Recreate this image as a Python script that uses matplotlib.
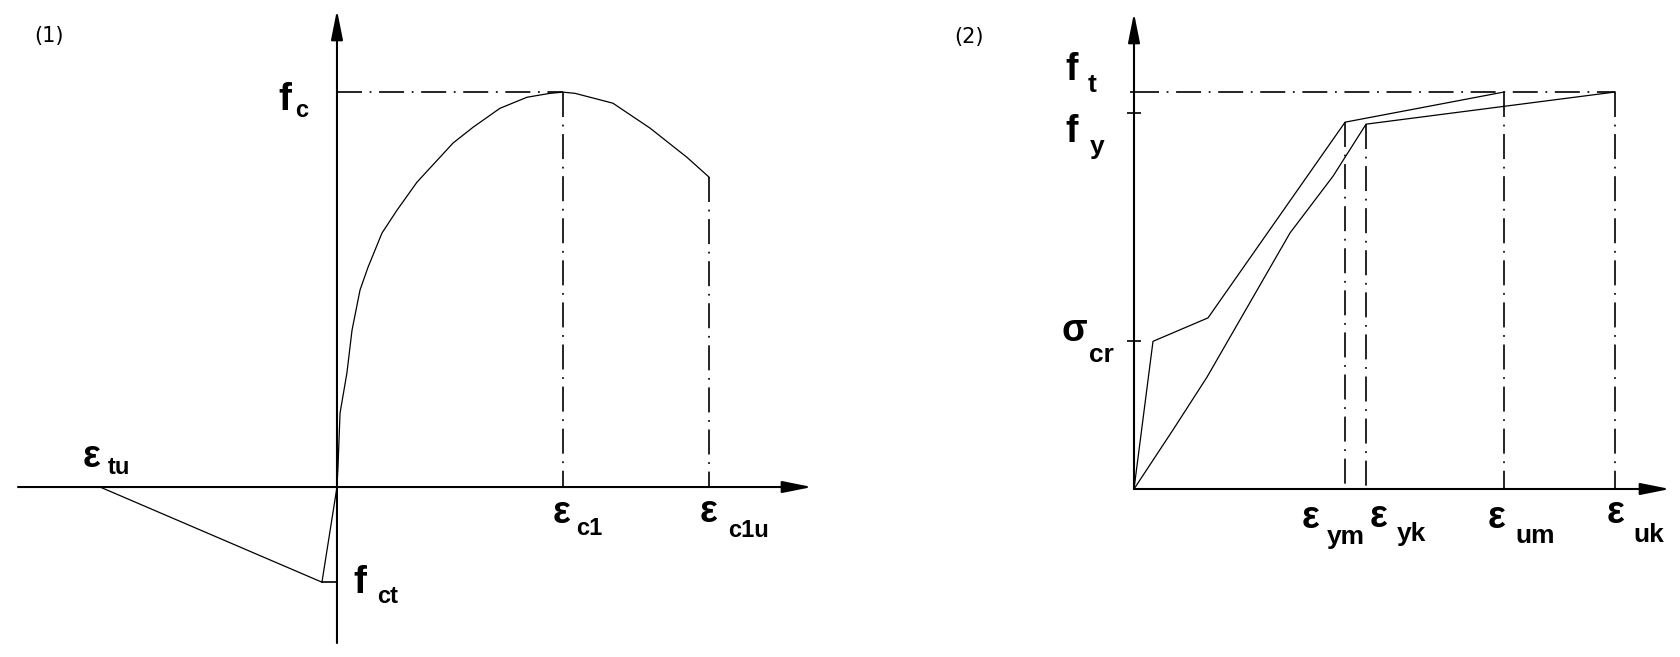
import matplotlib
matplotlib.use("Agg")
import matplotlib.pyplot as plt

# ---------------- Panel (1): concrete, strain in permille, stress / fc ----------------
conc_eps = [0, 0.009, 0.027, 0.088, 0.133, 0.204, 0.274, 0.398, 0.531, 0.708, 1.027,
            1.204, 1.442, 1.681, 1.885, 2.0, 2.106, 2.442, 2.770, 3.097, 3.292]
conc_sig = [0, 0.051, 0.187, 0.289, 0.397, 0.499, 0.556, 0.643, 0.701, 0.772, 0.871,
            0.911, 0.959, 0.987, 0.997, 1.0, 0.997, 0.972, 0.909, 0.835, 0.785]
tens_eps = [0, -0.133, -2.097]
tens_sig = [0, -0.241, 0]
fc = 1.0
fct = -0.241
eps_ct = -0.133
eps_c1 = 2.0
eps_c1u = 3.292
sig_c1u = 0.785
eps_tu = -2.097

# ---------------- Panel (2): reinforcing steel, stress / ft ----------------
mean_eps = [0, 0.395, 1.538, 4.387, 7.692]
mean_sig = [0, 0.372, 0.431, 0.924, 1.0]
char_eps = [0, 0.811, 1.518, 3.243, 4.137, 4.823, 10.0]
char_sig = [0, 0.149, 0.282, 0.645, 0.788, 0.919, 1.0]
ft = 1.0
fy = 0.947
sig_cr = 0.372
eps_ym, sig_ym = 4.387, 0.924
eps_yk, sig_yk = 4.823, 0.919
eps_um = 7.692
eps_uk = 10.0

W, H = 1681, 657
plt.rcParams["lines.scale_dashes"] = False
fig = plt.figure(figsize=(W / 100, H / 100), dpi=100)
fig.patch.set_facecolor("white")

DASHDOT = (0, (18, 5.5, 1.3, 5.5))
LABEL_FONT = "Liberation Sans"


def make_axes(px_left, px_right, px_top, px_bottom, xlim, ylim):
    ax = fig.add_axes([px_left / W, 1 - px_bottom / H,
                       (px_right - px_left) / W, (px_bottom - px_top) / H])
    ax.set_xlim(*xlim)
    ax.set_ylim(*ylim)
    for s in ax.spines.values():
        s.set_visible(False)
    ax.set_xticks([])
    ax.set_yticks([])
    ax.patch.set_alpha(0)
    return ax


def axis_arrow(ax, start, end):
    ax.annotate("", xy=end, xytext=start, annotation_clip=False,
                arrowprops=dict(arrowstyle="-|>,head_length=1.8,head_width=0.36",
                                mutation_scale=10, lw=1.5, color="black",
                                shrinkA=0, shrinkB=0, clip_on=False))


def label(ax, main, sub, xy, moff, soff, mfs, sfs):
    ax.annotate(main, xy=xy, xytext=moff, textcoords="offset pixels",
                ha="left", va="baseline", fontsize=mfs, fontweight="bold",
                family=LABEL_FONT, annotation_clip=False)
    ax.annotate(sub, xy=xy, xytext=soff, textcoords="offset pixels",
                ha="left", va="baseline", fontsize=sfs, fontweight="bold",
                family=LABEL_FONT, annotation_clip=False)


# ================= Panel (1) =================
ax1 = make_axes(18, 812, 10, 643, (-2.823, 4.204), (-0.395, 1.208))
x0, x1 = ax1.get_xlim()
y0, y1 = ax1.get_ylim()
axis_arrow(ax1, (x0, 0), (x1, 0))
axis_arrow(ax1, (0, y0), (0, y1))

ax1.plot(conc_eps, conc_sig, color="black", lw=0.9, clip_on=False)
ax1.plot(tens_eps, tens_sig, color="black", lw=0.9, clip_on=False)
ax1.plot([eps_ct, 0], [fct, fct], color="black", lw=1.2, clip_on=False)

ax1.plot([0, eps_c1], [fc, fc], color="black", lw=1.2, linestyle=DASHDOT)
ax1.plot([eps_c1, eps_c1], [fc, 0], color="black", lw=1.2, linestyle=DASHDOT)
ax1.plot([eps_c1u, eps_c1u], [sig_c1u, 0], color="black", lw=1.2, linestyle=DASHDOT)

label(ax1, "f", "c", (0, fc), (-59, -18), (-42, -25), 28, 17)
label(ax1, "f", "ct", (0, fct), (16, -11), (40, -21), 28, 17)
label(ax1, "ε", "tu", (eps_tu, 0), (-17, 20), (8, 13), 27, 17)
label(ax1, "ε", "c1", (eps_c1, 0), (-10, -36), (13, -48), 27, 17)
label(ax1, "ε", "c1u", (eps_c1u, 0), (-9, -35), (19, -50), 27, 17)

fig.text(34 / W, 1 - 26 / H, "(1)", fontsize=15, family="DejaVu Sans",
         ha="left", va="top")

# ================= Panel (2) =================
ax2 = make_axes(1134, 1670, 13, 489, (0, 11.14), (0, 1.199))
x0, x1 = ax2.get_xlim()
y0, y1 = ax2.get_ylim()
axis_arrow(ax2, (x0, 0), (x1, 0))
axis_arrow(ax2, (0, y0), (0, y1))

ax2.plot(mean_eps, mean_sig, color="black", lw=0.9, clip_on=False)
ax2.plot(char_eps, char_sig, color="black", lw=0.9, clip_on=False)

ax2.plot([0, eps_uk], [ft, ft], color="black", lw=1.2, linestyle=DASHDOT)
ax2.plot([eps_ym, eps_ym], [sig_ym, 0], color="black", lw=1.2, linestyle=DASHDOT)
ax2.plot([eps_yk, eps_yk], [sig_yk, 0], color="black", lw=1.2, linestyle=DASHDOT)
ax2.plot([eps_um, eps_um], [ft, 0], color="black", lw=1.2, linestyle=DASHDOT)
ax2.plot([eps_uk, eps_uk], [ft, 0], color="black", lw=1.2, linestyle=DASHDOT)

ax2.set_yticks([sig_cr, fy])
ax2.set_yticks([ft], minor=True)
ax2.tick_params(axis="y", which="major", direction="inout", length=9.5, width=1.2,
                labelleft=False)
ax2.tick_params(axis="y", which="minor", direction="out", length=3, width=1.2,
                labelleft=False)

label(ax2, "f", "t", (0, ft), (-69, 12), (-46, 0), 27, 19)
label(ax2, "f", "y", (0, fy), (-69, -29), (-44, -41), 27, 19)
label(ax2, "σ", "cr", (0, sig_cr), (-72, 0), (-45, -21), 27, 19)
label(ax2, "ε", "ym", (eps_ym, 0), (-43, -39), (-18, -55), 27, 19)
label(ax2, "ε", "yk", (eps_yk, 0), (4, -38), (31, -52), 27, 19)
label(ax2, "ε", "um", (eps_um, 0), (-16, -39), (11, -54), 27, 19)
label(ax2, "ε", "uk", (eps_uk, 0), (-9, -34), (18, -53), 27, 19)

fig.text(954 / W, 1 - 27 / H, "(2)", fontsize=15, family="DejaVu Sans",
         ha="left", va="top")

fig.savefig("out.png", dpi=100, facecolor="white")
